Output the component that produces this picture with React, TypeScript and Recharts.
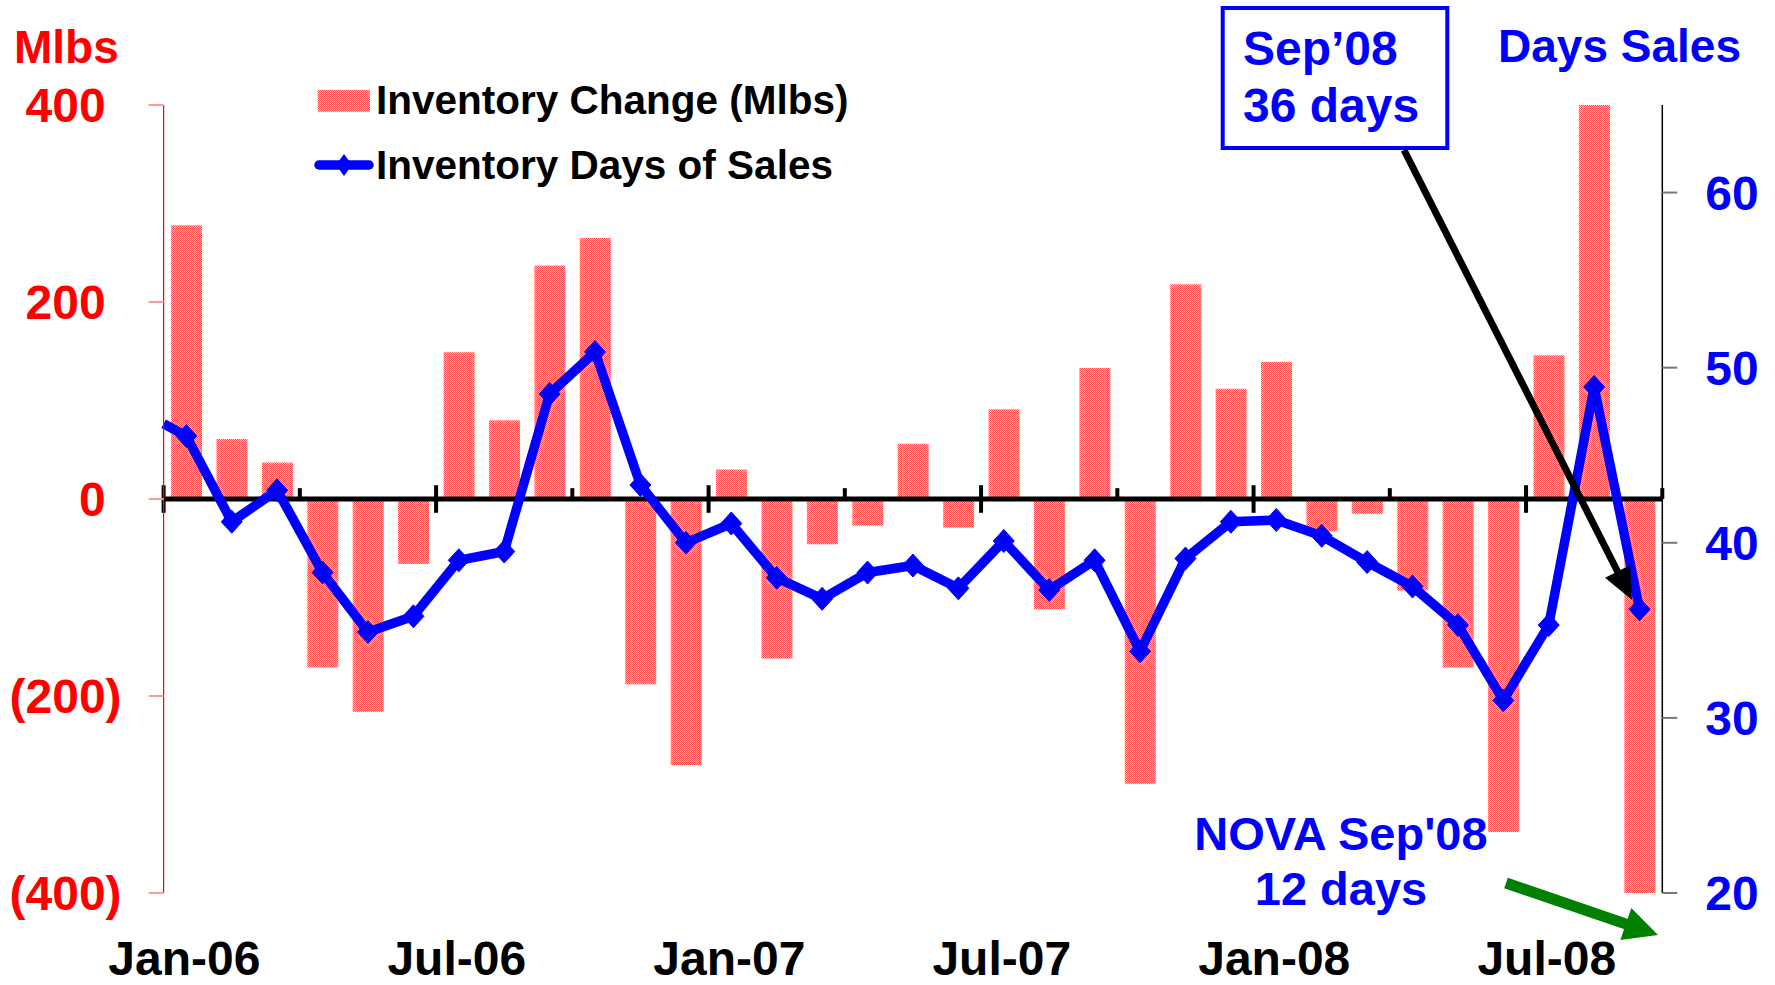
import React from 'react';
import {
  ComposedChart,
  Bar,
  Line,
  XAxis,
  YAxis,
  ReferenceLine,
  Legend,
} from 'recharts';

const MONTHS = [
  'Jan-06', 'Feb-06', 'Mar-06', 'Apr-06', 'May-06', 'Jun-06', 'Jul-06', 'Aug-06', 'Sep-06', 'Oct-06', 'Nov-06', 'Dec-06',
  'Jan-07', 'Feb-07', 'Mar-07', 'Apr-07', 'May-07', 'Jun-07', 'Jul-07', 'Aug-07', 'Sep-07', 'Oct-07', 'Nov-07', 'Dec-07',
  'Jan-08', 'Feb-08', 'Mar-08', 'Apr-08', 'May-08', 'Jun-08', 'Jul-08', 'Aug-08', 'Sep-08',
];

const INVENTORY_CHANGE = [
  278, 61, 37, -171, -216, -66, 149, 80, 237, 265, -188, -270,
  30, -162, -46, -27, 56, -29, 91, -112, 133, -289, 218, 112,
  139, -33, -15, -93, -171, -338, 146, 400, -400,
];

const DAYS_SALES = [
  46.1, 41.2, 43.0, 38.3, 34.9, 35.8, 39.0, 39.5, 48.5, 50.9, 43.3, 40.0,
  41.1, 38.0, 36.8, 38.3, 38.7, 37.4, 40.1, 37.3, 39.0, 33.8, 39.1, 41.2,
  41.3, 40.4, 38.9, 37.5, 35.3, 31.0, 35.3, 48.9, 36.2,
];

// value of the line where it enters the plot at the left edge (from Dec-05)
const DAYS_SALES_LEAD_IN = 46.8;

const X_TICK_LABELS = ['Jan-06', 'Jul-06', 'Jan-07', 'Jul-07', 'Jan-08', 'Jul-08'];
const LEFT_TICKS = [-400, -200, 0, 200, 400];
const RIGHT_TICKS = [20, 30, 40, 50, 60];
const QUARTER_BOUNDARIES = [0, 3, 6, 9, 12, 15, 18, 21, 24, 27, 30, 33];

const data = MONTHS.map((m, i) => ({
  month: m,
  idx: i + 0.5,
  change: INVENTORY_CHANGE[i],
  days: DAYS_SALES[i],
}));

const FONT = "'Liberation Sans', Arial, sans-serif";
const BAR_FILL = 'url(#barPattern) #ff8a8a';
const BLUE = '#0000ff';
const RED = '#ff0000';

const LeftTick = (props: any) => {
  const { x, y, payload } = props;
  const v = payload.value as number;
  const label = v < 0 ? `(${Math.abs(v)})` : `${v}`;
  const endX = v < 0 ? x - 27 : x - 43;
  return (
    <text x={endX} y={y} dy="0.36em" textAnchor="end" fill={RED} fontSize={48} fontWeight="bold" fontFamily={FONT}>
      {label}
    </text>
  );
};

const RightTick = (props: any) => {
  const { x, y, payload } = props;
  return (
    <text x={x + 28} y={y} dy="0.36em" textAnchor="start" fill={BLUE} fontSize={48} fontWeight="bold" fontFamily={FONT}>
      {payload.value}
    </text>
  );
};

const BottomTick = (props: any) => {
  const { x, y, payload } = props;
  return (
    <text x={x - 2} y={y + 82} textAnchor="middle" fill="#000" fontSize={48} fontWeight="bold" fontFamily={FONT}>
      {payload.value}
    </text>
  );
};

const Diamond = (props: any) => {
  const { cx, cy, index } = props;
  if (cx == null || cy == null) return <g key={`d-${index}`} />;
  const w = 10.5;
  const h = 11.5;
  return (
    <polygon
      key={`d-${index}`}
      points={`${cx},${cy - h} ${cx + w},${cy} ${cx},${cy + h} ${cx - w},${cy}`}
      fill={BLUE}
      stroke={BLUE}
      strokeWidth={1}
    />
  );
};

const LegendContent = () => (
  <svg width={480} height={120} style={{ overflow: 'visible' }}>
    <rect x={17.7} y={20} width={52.3} height={21.7} fill={BAR_FILL} />
    <text x={76} y={44} fontSize={40.5} fontWeight="bold" fontFamily={FONT} fill="#000">
      Inventory Change (Mlbs)
    </text>
    <line x1={19} y1={95} x2={69} y2={95} stroke={BLUE} strokeWidth={9.5} strokeLinecap="round" />
    <polygon points="44,84 52,95 44,106 36,95" fill={BLUE} />
    <text x={76} y={108.5} fontSize={40.5} fontWeight="bold" fontFamily={FONT} fill="#000">
      Inventory Days of Sales
    </text>
  </svg>
);

const Arrow = ({ x1, y1, x2, y2, color, width, head, half }: any) => {
  const dx = x2 - x1;
  const dy = y2 - y1;
  const len = Math.sqrt(dx * dx + dy * dy);
  const ux = dx / len;
  const uy = dy / len;
  const bx = x2 - ux * head;
  const by = y2 - uy * head;
  const px = -uy * half;
  const py = ux * half;
  return (
    <g>
      <line x1={x1} y1={y1} x2={bx + ux * 2} y2={by + uy * 2} stroke={color} strokeWidth={width} />
      <polygon points={`${x2},${y2} ${bx + px},${by + py} ${bx - px},${by - py}`} fill={color} />
    </g>
  );
};

export default function App() {
  return (
    <div style={{ position: 'absolute', left: 0, top: 0, width: 1775, height: 985, background: '#fff' }}>
      <ComposedChart
        width={1775}
        height={985}
        data={data}
        margin={{ top: 105, right: 12.7, bottom: 32, left: 63.6 }}
        barCategoryGap="16.4%"
      >
        <defs>
          <pattern id="barPattern" patternUnits="userSpaceOnUse" width={2} height={2}>
            <rect x={0} y={0} width={2} height={2} fill="#ffb8b8" />
            <rect x={0} y={0} width={1} height={1} fill="#ff5050" />
            <rect x={1} y={1} width={1} height={1} fill="#ff5050" />
          </pattern>
        </defs>
        <XAxis
          xAxisId="cat"
          dataKey="month"
          type="category"
          ticks={X_TICK_LABELS}
          interval={0}
          axisLine={false}
          tickLine={false}
          tickSize={0}
          tickMargin={0}
          height={60}
          tick={<BottomTick />}
        />
        <XAxis xAxisId="num" dataKey="idx" type="number" domain={[0, 33]} hide allowDataOverflow />
        <YAxis
          yAxisId="left"
          orientation="left"
          domain={[-400, 400]}
          ticks={LEFT_TICKS}
          width={100}
          axisLine={{ stroke: RED, strokeWidth: 1.2 }}
          tickLine={{ stroke: '#ff9a9a', strokeWidth: 2 }}
          tickSize={15}
          tickMargin={0}
          tick={<LeftTick />}
          allowDataOverflow
        />
        <YAxis
          yAxisId="right"
          orientation="right"
          domain={[20, 65]}
          ticks={RIGHT_TICKS}
          width={100}
          axisLine={{ stroke: '#000', strokeWidth: 1.5 }}
          tickLine={{ stroke: '#777', strokeWidth: 2 }}
          tickSize={15}
          tickMargin={0}
          tick={<RightTick />}
          allowDataOverflow
        />
        <Legend
          layout="vertical"
          align="center"
          verticalAlign="middle"
          content={<LegendContent />}
          wrapperStyle={{ left: 300, top: 70, width: 480, height: 120 }}
        />
        <Bar
          xAxisId="cat"
          yAxisId="left"
          dataKey="change"
          name="Inventory Change (Mlbs)"
          fill={BAR_FILL}
          isAnimationActive={false}
        />
        <ReferenceLine xAxisId="num" yAxisId="left" y={0} stroke="#000" strokeWidth={5} />
        {QUARTER_BOUNDARIES.map((q) => (
          <ReferenceLine
            key={`q-${q}`}
            xAxisId="num"
            yAxisId="left"
            segment={q % 6 === 0 ? [{ x: q, y: 14 }, { x: q, y: -14 }] : [{ x: q, y: 11 }, { x: q, y: 0 }]}
            stroke="#000"
            strokeWidth={4}
            ifOverflow="visible"
          />
        ))}
        <ReferenceLine
          xAxisId="num"
          yAxisId="right"
          segment={[{ x: 0, y: DAYS_SALES_LEAD_IN }, { x: 0.5, y: DAYS_SALES[0] }]}
          stroke={BLUE}
          strokeWidth={9.5}
          ifOverflow="visible"
        />
        <Line
          xAxisId="cat"
          yAxisId="right"
          dataKey="days"
          name="Inventory Days of Sales"
          stroke={BLUE}
          strokeWidth={9.5}
          strokeLinejoin="miter"
          dot={<Diamond />}
          activeDot={false}
          isAnimationActive={false}
        />
      </ComposedChart>
      <svg
        width={1775}
        height={985}
        style={{ position: 'absolute', left: 0, top: 0, pointerEvents: 'none' }}
      >
        <text x={14} y={63} fill={RED} fontSize={46} fontWeight="bold" fontFamily={FONT}>Mlbs</text>
        <text x={1498} y={62} fill={BLUE} fontSize={46} fontWeight="bold" fontFamily={FONT}>Days Sales</text>
        <rect x={1222.7} y={8} width={224.6} height={140} fill="#fff" stroke={BLUE} strokeWidth={4} />
        <text x={1243} y={65} fill={BLUE} fontSize={48} fontWeight="bold" fontFamily={FONT}>Sep’08</text>
        <text x={1243} y={122} fill={BLUE} fontSize={48} fontWeight="bold" fontFamily={FONT}>36 days</text>
        <Arrow x1={1404} y1={150} x2={1632} y2={600} color="#000" width={7} head={32} half={14} />
        <text x={1341} y={850} textAnchor="middle" fill={BLUE} fontSize={47} fontWeight="bold" fontFamily={FONT}>NOVA Sep'08</text>
        <text x={1341} y={905} textAnchor="middle" fill={BLUE} fontSize={47} fontWeight="bold" fontFamily={FONT}>12 days</text>
        <Arrow x1={1506} y1={883} x2={1658} y2={935} color="#008000" width={11} head={34} half={17} />
      </svg>
    </div>
  );
}
